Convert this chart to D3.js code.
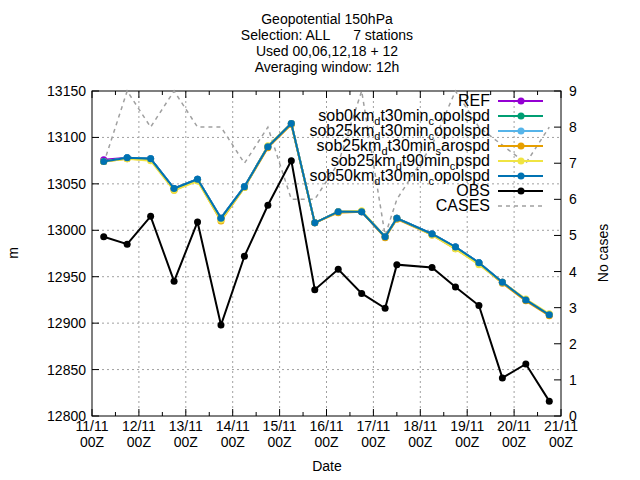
<!DOCTYPE html>
<html><head><meta charset="utf-8">
<script src="https://cdn.jsdelivr.net/npm/d3@7"></script>
<style>body{margin:0;background:#fff}text{font-family:"Liberation Sans",Arial,sans-serif;font-size:14px}</style>
</head><body>
<script>
// hours after 11/11 00Z
var hours = [6,18,30,42,54,66,78,90,102,114,126,138,150,156,174,186,198,210,222,234];
var dayLabels = ["11/11","12/11","13/11","14/11","15/11","16/11","17/11","18/11","19/11","20/11","21/11"];
var ref    = [13076,13078,13077,13045,13055,13013,13047,13090,13115,13008,13020,13020,12993,13013,12996,12982,12965,12944,12925,12909];
var sob0   = [13074,13078,13077,13045,13055,13013,13047,13090,13115,13008,13020,13020,12993,13013,12996,12982,12965,12944,12925,12909];
var sob25c = [13074,13078,13077,13045,13055,13013,13047,13090,13115,13008,13020,13020,12993,13013,12996,12982,12965,12944,12925,12909];
var sob25s = [13074,13077,13076,13043,13054,13010,13046,13089,13114,13008,13019,13020,12992,13012,12995,12980,12964,12943,12924,12908];
var sob25p = [13074,13077,13075,13043,13053,13011,13046,13091,13115,13008,13020,13021,12993,13013,12995,12980,12963,12944,12926,12910];
var sob50  = [13074,13078,13077,13045,13055,13013,13047,13090,13115,13008,13020,13020,12993,13013,12996,12982,12965,12944,12925,12909];
var obs    = [12993,12985,13015,12945,13009,12898,12972,13027,13075,12936,12958,12932,12916,12963,12960,12939,12919,12841,12856,12816];
var cases  = [7,9,8,9,8,8,7,8,6,6,7,9,5,6,7.5,9,8,7.5,7,8];

var series = [
  {name:[["REF"]], v:ref, c:"#9400d3"},
  {name:[["sob0km"],["d",1],["t30min"],["c",1],["opolspd"]], v:sob0, c:"#009e73"},
  {name:[["sob25km"],["d",1],["t30min"],["c",1],["opolspd"]], v:sob25c, c:"#56b4e9"},
  {name:[["sob25km"],["d",1],["t30min"],["s",1],["arospd"]], v:sob25s, c:"#e69f00"},
  {name:[["sob25km"],["d",1],["t90min"],["c",1],["pspd"]], v:sob25p, c:"#f0e442"},
  {name:[["sob50km"],["d",1],["t30min"],["c",1],["opolspd"]], v:sob50, c:"#0072b2"},
  {name:[["OBS"]], v:obs, c:"#000000"}
];

var L=92, R=561, T=91, B=416;
var svg = d3.select("body").append("svg").attr("width",640).attr("height",480);
var x = d3.scaleLinear().domain([0,240]).range([L,R]);
var y = d3.scaleLinear().domain([12800,13150]).range([B,T]);
var y2 = d3.scaleLinear().domain([0,9]).range([B,T]);

// grid
var g = svg.append("g").attr("stroke","#a0a0a0").attr("stroke-dasharray","2,3").attr("stroke-width",1);
d3.range(1,10).forEach(function(i){ g.append("line").attr("x1",x(i*24)).attr("x2",x(i*24)).attr("y1",T).attr("y2",B); });
d3.range(12850,13150,50).forEach(function(v){ g.append("line").attr("x1",L).attr("x2",R).attr("y1",y(v)).attr("y2",y(v)); });

// ticks
var tk = svg.append("g").attr("stroke","#000");
d3.range(0,241,12).forEach(function(h){
  var len = h%24==0 ? 7 : 4;
  tk.append("line").attr("x1",x(h)).attr("x2",x(h)).attr("y1",B).attr("y2",B-len);
  tk.append("line").attr("x1",x(h)).attr("x2",x(h)).attr("y1",T).attr("y2",T+len);
});
y.ticks(7).forEach(function(v){
  tk.append("line").attr("x1",L).attr("x2",L+7).attr("y1",y(v)).attr("y2",y(v));
  svg.append("text").attr("x",L-6).attr("y",y(v)+5).attr("text-anchor","end").text(v);
});
d3.range(0,10).forEach(function(v){
  tk.append("line").attr("x1",R).attr("x2",R-7).attr("y1",y2(v)).attr("y2",y2(v));
  svg.append("text").attr("x",R+8).attr("y",y2(v)+5).text(v);
});
dayLabels.forEach(function(d,i){
  svg.append("text").attr("x",x(i*24)).attr("y",431).attr("text-anchor","middle").text(d);
  svg.append("text").attr("x",x(i*24)).attr("y",447).attr("text-anchor","middle").text("00Z");
});
svg.append("rect").attr("x",L).attr("y",T).attr("width",R-L).attr("height",B-T).attr("fill","none").attr("stroke","#000");

svg.append("text").attr("x",327).attr("y",471).attr("text-anchor","middle").text("Date");
svg.append("text").attr("transform","translate(18,253) rotate(-90)").attr("text-anchor","middle").text("m");
svg.append("text").attr("transform","translate(608,253) rotate(-90)").attr("text-anchor","middle").text("No cases");
["Geopotential 150hPa","Selection: ALL      7 stations","Used 00,06,12,18 + 12","Averaging window: 12h"].forEach(function(t,i){
  svg.append("text").attr("x",327).attr("y",24+i*16).attr("text-anchor","middle").attr("xml:space","preserve").text(t);
});

// cases
svg.append("path").datum(cases).attr("fill","none").attr("stroke","#a0a0a0").attr("stroke-width",1.5)
  .attr("stroke-dasharray","4,4")
  .attr("d", d3.line().x(function(d,i){return x(hours[i]);}).y(function(d){return y2(d);}));

var line = d3.line().x(function(d,i){return x(hours[i]);}).y(function(d){return y(d);});
series.forEach(function(s){
  svg.append("path").datum(s.v).attr("fill","none").attr("stroke",s.c).attr("stroke-width",2).attr("d",line);
  svg.selectAll(null).data(s.v).enter().append("circle")
    .attr("cx",function(d,i){return x(hours[i]);}).attr("cy",function(d){return y(d);})
    .attr("r",3.5).attr("fill",s.c);
});

// legend
var ly = 101, dy = 15;
series.concat([{name:[["CASES"]], c:"#a0a0a0", dash:true}]).forEach(function(s,i){
  var yy = ly + i*dy;
  var t = svg.append("text").attr("x",490).attr("y",yy+5).attr("text-anchor","end").style("font-size","16px");
  s.name.forEach(function(p){
    var ts = t.append("tspan").text(p[0]);
    if(p[1]) ts.style("font-size","11px").attr("dy",4);
    else if(s.name.length>1) ts.attr("dy", t.selectAll("tspan").size()>1 ? -4 : 0);
  });
  var ln = svg.append("line").attr("x1",498).attr("x2",543).attr("y1",yy).attr("y2",yy)
    .attr("stroke",s.c).attr("stroke-width",s.dash?1.5:2);
  if(s.dash) ln.attr("stroke-dasharray","4,4");
  else svg.append("circle").attr("cx",521).attr("cy",yy).attr("r",3.5).attr("fill",s.c);
});
</script>
</body></html>
